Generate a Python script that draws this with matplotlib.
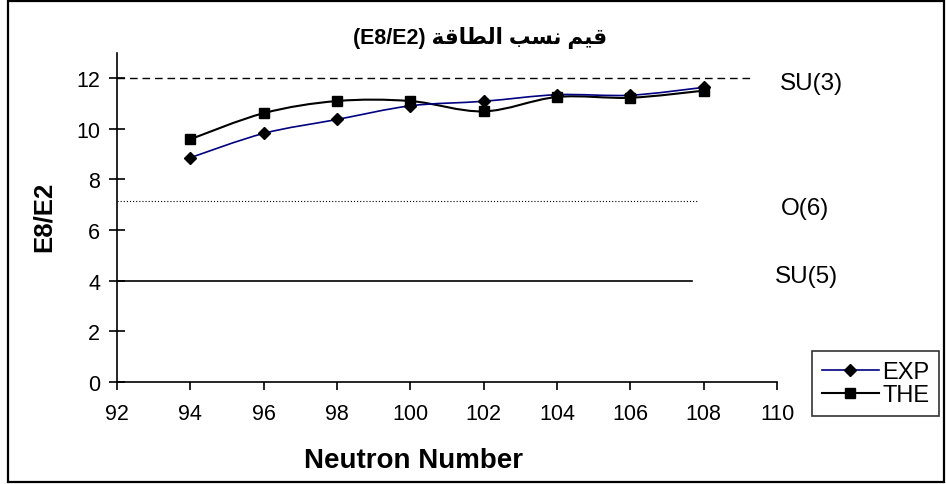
import matplotlib.pyplot as plt
from matplotlib.path import Path
from matplotlib.patches import PathPatch, Rectangle
from matplotlib.lines import Line2D
import numpy as np

plt.rcParams['font.family'] = ['Liberation Sans', 'DejaVu Sans']

neutron = [94, 96, 98, 100, 102, 104, 106, 108]
exp_ratio = [8.86, 9.82, 10.37, 10.91, 11.09, 11.35, 11.33, 11.64]
the_ratio = [9.59, 10.62, 11.10, 11.10, 10.69, 11.26, 11.23, 11.51]

# symmetry limits and where their guide lines stop
limit_names = ['SU(3)', 'O(6)', 'SU(5)']
limit_values = [12.0, 7.14, 4.0]
limit_ends = [109.26, 107.85, 107.68]
limit_styles = [(0, (5.5, 3.5)), (0, (1, 1.8)), '-']
limit_widths = [1.0, 0.8, 1.2]

x_ticks = [92, 94, 96, 98, 100, 102, 104, 106, 108, 110]
y_ticks = [0, 2, 4, 6, 8, 10, 12]

# "قيم نسب الطاقة" in presentation forms, visual order left to right
title_ar = '\uFE94\uFED7\uFE8E\uFEC4\uFEDF\uFE8D \uFE90\uFEB4\uFEE7 \uFEE2\uFEF4\uFED7'
title_text = '(E8/E2) ' + title_ar


def smooth_path(x, y):
    # cubic bezier through the points, excel style smoothing
    pts = np.column_stack([x, y]).astype(float)
    ext = np.vstack([pts[0], pts, pts[-1]])
    verts = [pts[0]]
    codes = [Path.MOVETO]
    for i in range(len(pts) - 1):
        p0, p1, p2, p3 = ext[i], ext[i + 1], ext[i + 2], ext[i + 3]
        verts += [p1 + (p2 - p0) / 6, p2 - (p3 - p1) / 6, p2]
        codes += [Path.CURVE4] * 3
    return Path(verts, codes)


def main():
    fig = plt.figure(figsize=(9.46, 4.85), dpi=100)
    ax = fig.add_axes([0.1237, 0.2109, 0.6977, 0.6778])

    fig.patches.append(Rectangle((0.0085, 0.004), 0.9895, 0.991,
                                 transform=fig.transFigure, fill=False,
                                 ec='black', lw=1.6))

    for name, val, end, ls, lw in zip(limit_names, limit_values, limit_ends,
                                      limit_styles, limit_widths):
        ax.plot([92, end], [val, val], color='black', ls=ls, lw=lw,
                clip_on=False)

    ax.text(110.08, 11.8, limit_names[0], fontsize=17.5, va='center', clip_on=False)
    ax.text(110.1, 6.85, limit_names[1], fontsize=17.5, va='center', clip_on=False)
    ax.text(109.95, 4.2, limit_names[2], fontsize=17.5, va='center', clip_on=False)

    ax.add_patch(PathPatch(smooth_path(neutron, the_ratio), fill=False,
                           ec='black', lw=1.5))
    ax.add_patch(PathPatch(smooth_path(neutron, exp_ratio), fill=False,
                           ec='#000080', lw=1.2))
    ax.plot(neutron, the_ratio, ls='none', marker='s', ms=6.5, color='black')
    ax.plot(neutron, exp_ratio, ls='none', marker='D', ms=6.5, color='black')

    ax.set_xlim(92, 110)
    ax.set_ylim(0, 13)
    ax.set_xticks(x_ticks)
    ax.set_yticks(y_ticks)
    ax.tick_params(axis='x', direction='out', length=6, width=1.2,
                   labelsize=15.5, pad=9)
    ax.tick_params(axis='y', direction='inout', length=12, width=1.2,
                   labelsize=15.5, pad=6)
    for side in ['top', 'right']:
        ax.spines[side].set_visible(False)
    for side in ['left', 'bottom']:
        ax.spines[side].set_linewidth(1.2)

    handles = [
        Line2D([], [], color='#000080', lw=1.2, marker='D', ms=6.5,
               mfc='black', mec='black'),
        Line2D([], [], color='black', lw=1.5, marker='s', ms=6.5),
    ]
    leg = ax.legend(handles, ['EXP', 'THE'], loc='lower left',
                    bbox_to_anchor=(1.053, -0.104), borderaxespad=0,
                    fancybox=False, edgecolor='black', fontsize=17,
                    handlelength=2.4, handletextpad=0.15, labelspacing=0.05,
                    borderpad=0.42, frameon=True)
    leg.get_frame().set_linewidth(1.2)

    fig.text(0.507, 0.922, title_text, fontsize=15.5, fontweight='bold',
             ha='center', va='center')
    fig.text(0.437, 0.0495, 'Neutron Number', fontsize=20, fontweight='bold',
             ha='center', va='center')
    fig.text(0.0465, 0.553, 'E8/E2', fontsize=18.5, fontweight='bold',
             ha='center', va='center', rotation=90)

    fig.savefig('out.png', dpi=100, facecolor='white')


if __name__ == '__main__':
    main()
